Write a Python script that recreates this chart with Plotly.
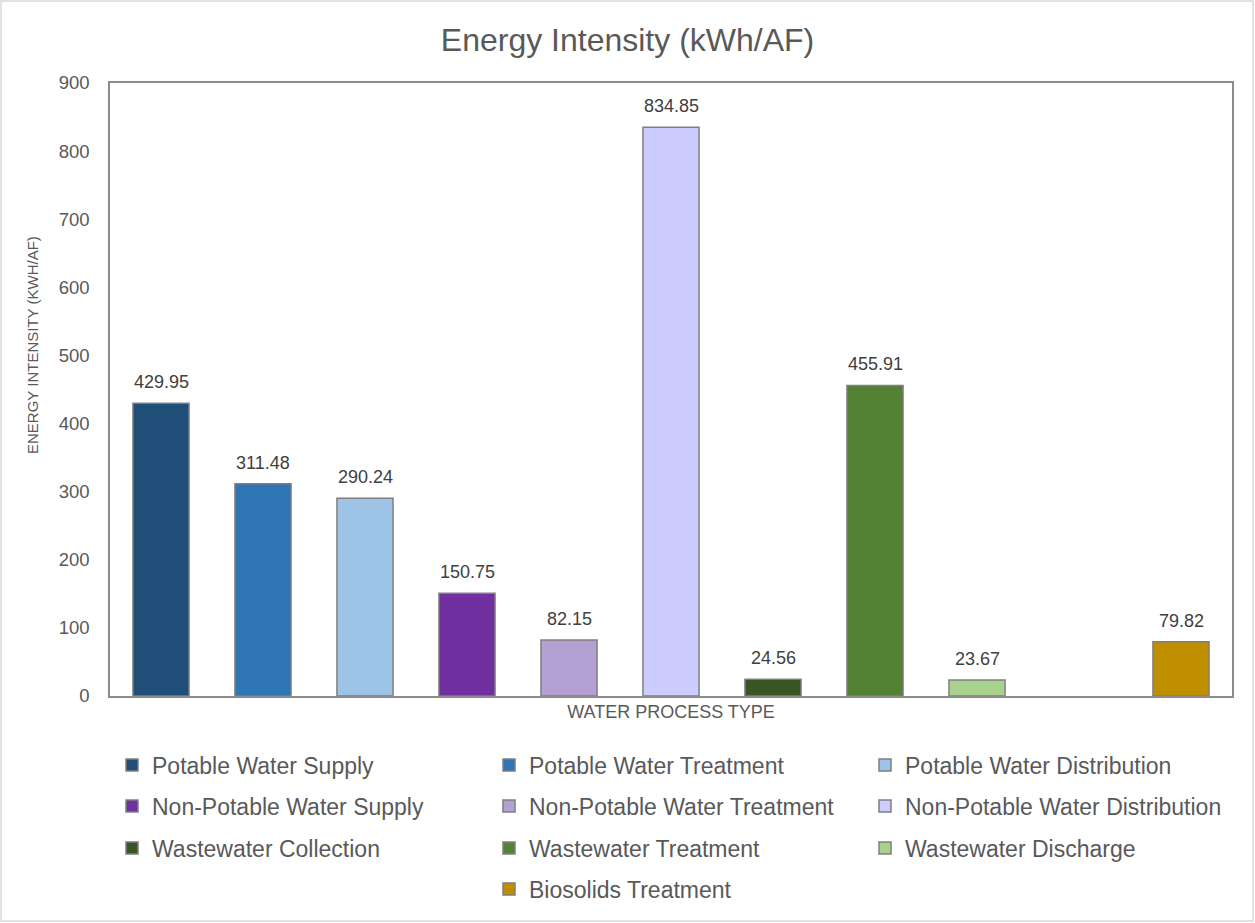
import plotly.graph_objects as go

# ---- data ----
series_names = [
    "Potable Water Supply", "Potable Water Treatment", "Potable Water Distribution",
    "Non-Potable Water Supply", "Non-Potable Water Treatment", "Non-Potable Water Distribution",
    "Wastewater Collection", "Wastewater Treatment", "Wastewater Discharge",
    "Biosolids Treatment",
]
values = [429.95, 311.48, 290.24, 150.75, 82.15, 834.85, 24.56, 455.91, 23.67, 79.82]
# category slots along the x axis (one slot is empty in the original chart)
categories = [
    "Potable Water Supply", "Potable Water Treatment", "Potable Water Distribution",
    "Non-Potable Water Supply", "Non-Potable Water Treatment", "Non-Potable Water Distribution",
    "Wastewater Collection", "Wastewater Treatment", "Wastewater Discharge",
    "(empty)", "Biosolids Treatment",
]
colors = ["#1F4E79", "#2E75B6", "#9DC3E6", "#7030A0", "#B4A0D2",
          "#CCCCFF", "#375623", "#548235", "#A9D18E", "#BF8F00"]
y_ticks = [0, 100, 200, 300, 400, 500, 600, 700, 800, 900]

# ---- layout constants (pixels) ----
W, H = 1255, 923
ML, MR, MT, MB = 110, 23, 83, 227
PW, PH = W - ML - MR, H - MT - MB
FONT = "Liberation Sans, Arial"
TXT = "#595959"

def px_x(p):
    return (p - ML) / PW

def px_y(p):
    return (H - MB - p) / PH

legend_rows_y = [765, 806, 848, 889]
legend_text_x = [152, 529, 905]

fig = go.Figure()
legends = {}
annotations = []
for i, (name, val, col) in enumerate(zip(series_names, values, colors)):
    row, colidx = divmod(i, 3)
    if row == 3:
        colidx = 1
    key = "legend" if i == 0 else f"legend{i + 1}"
    fig.add_trace(go.Bar(
        x=[name], y=[val], name=name,
        marker=dict(color=col, line=dict(color="#7F7F7F", width=1.5)),
        width=0.55,
        legend=key,
        hoverinfo="x+y",
    ))
    legends[key] = dict(
        orientation="h",
        font=dict(size=23, color=TXT, family=FONT),
        bgcolor="rgba(0,0,0,0)", borderwidth=0,
        xanchor="left", yanchor="middle",
        x=px_x(legend_text_x[colidx] - 40), y=px_y(legend_rows_y[row]),
    )
    annotations.append(dict(
        x=name, y=val, xref="x", yref="y", text=f"{val:.2f}",
        showarrow=False, yanchor="bottom", yshift=9,
        font=dict(size=18, color="#404040", family=FONT),
    ))

annotations.append(dict(
    x=px_x(32), y=px_y(345), xref="paper", yref="paper",
    text="ENERGY INTENSITY (KWH/AF)", textangle=-90, showarrow=False,
    xanchor="center", yanchor="middle",
    font=dict(size=15, color=TXT, family=FONT),
))

fig.update_layout(
    width=W, height=H,
    margin=dict(l=ML, r=MR, t=MT, b=MB),
    paper_bgcolor="white", plot_bgcolor="white",
    barmode="overlay",
    title=dict(text="Energy Intensity (kWh/AF)", x=0.5, xref="container",
               y=1 - 40 / H, yref="container", xanchor="center", yanchor="middle",
               font=dict(size=32, color=TXT, family=FONT)),
    font=dict(family=FONT, color=TXT),
    showlegend=True,
    annotations=annotations,
    **legends,
)

fig.update_xaxes(
    type="category", categoryorder="array", categoryarray=categories,
    range=[-0.5, len(categories) - 0.5],
    showticklabels=False, ticks="", showgrid=False, zeroline=False,
    showline=True, linecolor="#8C8C8C", linewidth=1.5, mirror=True,
    title=dict(text="WATER PROCESS TYPE", standoff=9,
               font=dict(size=18, color=TXT)),
)
fig.update_yaxes(
    range=[0, 900], tickvals=y_ticks, showgrid=False, zeroline=False,
    showline=True, linecolor="#8C8C8C", linewidth=1.5, mirror=True,
    ticks="", ticklabelstandoff=15,
    tickfont=dict(size=18.5, color=TXT),
)

# outer chart border
fig.add_shape(type="rect", xref="paper", yref="paper",
              x0=px_x(1), x1=px_x(W - 2), y0=px_y(H - 2), y1=px_y(1),
              line=dict(color="#D9D9D9", width=1.5), fillcolor="rgba(0,0,0,0)",
              layer="below")

fig.write_html("out.html")
